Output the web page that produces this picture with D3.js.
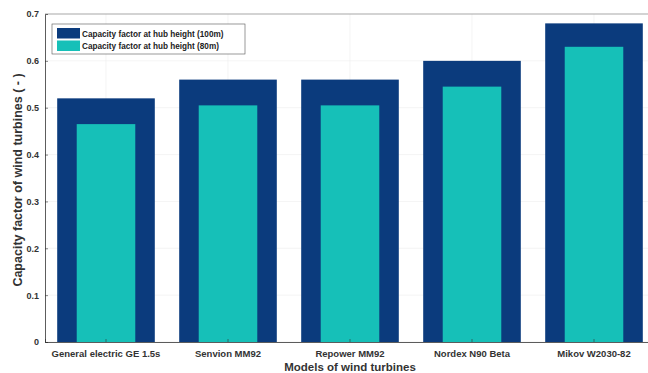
<!DOCTYPE html>
<html>
<head>
<meta charset="utf-8">
<script src="https://cdn.jsdelivr.net/npm/d3@7"></script>
<style>
  body { margin: 0; background: #fff; }
  svg text { font-family: "Liberation Sans", Arial, sans-serif; font-weight: bold; }
</style>
</head>
<body>
<div id="chart"></div>
<script>
// chart data
var turbines = ["General electric GE 1.5s", "Senvion MM92", "Repower MM92", "Nordex N90 Beta", "Mikov W2030-82"];
var cf100 = [0.52, 0.56, 0.56, 0.60, 0.68];
var cf80 = [0.465, 0.505, 0.505, 0.545, 0.63];
var yTicks = [0, 0.1, 0.2, 0.3, 0.4, 0.5, 0.6, 0.7];
var seriesNames = ["Capacity factor at hub height (100m)", "Capacity factor at hub height (80m)"];

var width = 648, height = 373;
var margin = { top: 14, left: 45, bottom: 31, right: -7 };

var svg = d3.select("#chart").append("svg")
  .attr("width", width)
  .attr("height", height);

var x = d3.scaleBand()
  .domain(turbines)
  .range([margin.left, width - margin.right])
  .padding(0);

var y = d3.scaleLinear()
  .domain([0, 0.7])
  .range([height - margin.bottom, margin.top]);

var dark = "#0b3b7d";
var cyan = "#16c0b8";

// faint grid
svg.append("g")
  .selectAll("line.gy")
  .data(yTicks)
  .enter().append("line")
  .attr("x1", margin.left).attr("x2", width - margin.right)
  .attr("y1", d => y(d)).attr("y2", d => y(d))
  .attr("stroke", "#ececec").attr("stroke-width", 0.6);

svg.append("g")
  .selectAll("line.gx")
  .data(turbines)
  .enter().append("line")
  .attr("x1", d => x(d) + x.bandwidth() / 2).attr("x2", d => x(d) + x.bandwidth() / 2)
  .attr("y1", y(0)).attr("y2", y(0.7))
  .attr("stroke", "#ececec").attr("stroke-width", 0.6);

// outer bars (100m), width 0.8 of band
var outerW = x.bandwidth() * 0.8;
svg.selectAll("rect.b100")
  .data(turbines)
  .enter().append("rect")
  .attr("x", d => x(d) + (x.bandwidth() - outerW) / 2)
  .attr("y", (d, i) => y(cf100[i]))
  .attr("width", outerW)
  .attr("height", (d, i) => y(0) - y(cf100[i]))
  .attr("fill", dark);

// inner bars (80m)
var innerW = x.bandwidth() * 0.48;
svg.selectAll("rect.b80")
  .data(turbines)
  .enter().append("rect")
  .attr("x", d => x(d) + (x.bandwidth() - innerW) / 2)
  .attr("y", (d, i) => y(cf80[i]))
  .attr("width", innerW)
  .attr("height", (d, i) => y(0) - y(cf80[i]))
  .attr("fill", cyan);

// axes
var xAxis = svg.append("g")
  .attr("transform", "translate(0," + y(0) + ")")
  .call(d3.axisBottom(x).tickSize(-3).tickPadding(8));
xAxis.selectAll("text").attr("font-size", 9.5).attr("fill", "#333");

var yAxis = svg.append("g")
  .attr("transform", "translate(" + margin.left + ",0)")
  .call(d3.axisLeft(y).tickValues(yTicks).tickFormat(d3.format("")).tickSize(-3).tickPadding(6));
yAxis.selectAll("text").attr("font-size", 9).attr("fill", "#333");

svg.selectAll(".domain").attr("stroke", "#333").attr("stroke-width", 0.8);
svg.selectAll(".tick line").attr("stroke", "#333").attr("stroke-width", 0.6);

// top border
svg.append("line")
  .attr("x1", margin.left).attr("x2", width)
  .attr("y1", y(0.7)).attr("y2", y(0.7))
  .attr("stroke", "#999").attr("stroke-width", 0.8);

// axis labels
svg.append("text")
  .attr("x", (margin.left + width - margin.right) / 2)
  .attr("y", 371)
  .attr("text-anchor", "middle")
  .attr("font-size", 11.5)
  .attr("fill", "#333")
  .text("Models of wind turbines");

svg.append("text")
  .attr("transform", "translate(22,180) rotate(-90)")
  .attr("text-anchor", "middle")
  .attr("font-size", 12.5)
  .attr("fill", "#333")
  .text("Capacity factor of wind turbines ( - )");

// legend
var legend = svg.append("g").attr("transform", "translate(52,24)");
legend.append("rect")
  .attr("width", 193).attr("height", 30)
  .attr("fill", "#fff").attr("stroke", "#555").attr("stroke-width", 0.6);
var colors = [dark, cyan];
seriesNames.forEach(function(name, i) {
  var row = legend.append("g").attr("transform", "translate(5," + (4 + i * 12.5) + ")");
  row.append("rect").attr("width", 23).attr("height", 10.5).attr("fill", colors[i]);
  row.append("text")
    .attr("x", 25).attr("y", 8.5)
    .attr("font-size", 8.2)
    .attr("fill", "#222")
    .text(name);
});
</script>
</body>
</html>
